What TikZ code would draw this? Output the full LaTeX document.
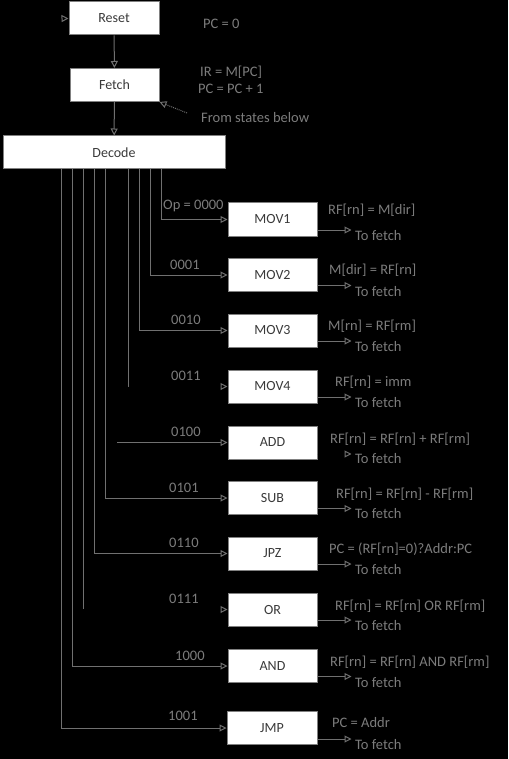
\documentclass[tikz,border=0pt]{standalone}
\usepackage{fontspec}
\setmainfont{Carlito}
\usetikzlibrary{arrows.meta}
\definecolor{linec}{HTML}{707070}
\definecolor{boxc}{HTML}{808080}
\definecolor{txtin}{HTML}{3A3A3A}
\definecolor{txtout}{HTML}{7C7C7C}
\tikzset{
  box/.style={draw=boxc, fill=white, line width=1pt, minimum width=89pt, minimum height=33pt, inner sep=0pt, font=\fontsize{14}{16}\selectfont, text=txtin},
  wire/.style={draw=linec, line width=1pt},
  hid/.style={draw=black, line width=1pt},
  tip/.style={-{Triangle[open,length=7pt,width=7pt,color=linec]}},
  lbl/.style={text=txtout, font=\fontsize{14.5}{16}\selectfont, inner sep=0pt},
  oplbl/.style={lbl, anchor=west},
}
\begin{document}
\begin{tikzpicture}[x=1pt,y=-1pt]
\fill[black] (0,0) rectangle (508,759);
\useasboundingbox (0,0) rectangle (508,759);
% top boxes
\node[box, minimum width=90pt] (reset) at (114,18.5) {Reset};
\node[box] (fetch) at (114.5,85) {Fetch};
\node[box, minimum width=222pt] (decode) at (114,152.5) {Decode};
\coordinate (rin) at (25,19);
\draw[hid,tip] (rin) -- (reset.west);
\draw[wire,tip] (reset) -- (fetch);
\draw[wire,tip] (fetch) -- (decode);
\node[lbl, anchor=west] (pc0) at (203,24) {PC = 0};
\node[lbl, anchor=west] (ir) at (200,72) {IR = M[PC]};
\node[lbl, anchor=west] (pcinc) at (198,89) {PC = PC + 1};
\node[lbl, anchor=west] (from) at (201,118) {From states below};
\coordinate (fromstart) at (187,113);
\draw[wire, densely dotted, tip] (fromstart) -- (fetch.south east);
% state boxes
\node[box] (mov1) at (272.5,219.5) {MOV1};
\node[box] (mov2) at (272.5,275) {MOV2};
\node[box] (mov3) at (272.5,330.5) {MOV3};
\node[box] (mov4) at (272.5,386.5) {MOV4};
\node[box] (add) at (272.5,442.5) {ADD};
\node[box] (sub) at (272.5,498) {SUB};
\node[box] (jpz) at (272.5,553.5) {JPZ};
\node[box] (or) at (272.5,609.5) {OR};
\node[box] (and) at (272.5,666) {AND};
\node[box, minimum width=90pt] (jmp) at (272,728) {JMP};
% hidden segments (black on black)
\draw[hid] ([xshift=3pt]decode.south) -- ([xshift=3pt]decode.south |- add) coordinate (addc);
% branches from decode
\draw[wire,tip] ([xshift=47pt]decode.south) |- (mov1);
\draw[wire,tip] ([xshift=36pt]decode.south) |- (mov2);
\draw[wire,tip] ([xshift=25pt]decode.south) |- (mov3);
\draw[wire] ([xshift=14.5pt]decode.south) -- ([xshift=14.5pt]decode.south |- mov4) coordinate (m4c);
\draw[hid,tip] (m4c) -- (mov4);
\draw[wire,tip] (addc) -- (add);
\draw[wire,tip] ([xshift=-9pt]decode.south) |- (sub);
\draw[wire,tip] ([xshift=-20pt]decode.south) |- (jpz);
\draw[wire] ([xshift=-31pt]decode.south) -- ([xshift=-31pt]decode.south |- or) coordinate (orc);
\draw[hid,tip] (orc) -- (or);
\draw[wire,tip] ([xshift=-42pt]decode.south) |- (and);
\draw[wire,tip] ([xshift=-53pt]decode.south) |- (jmp);
% opcode labels
\node[lbl, anchor=west] (l0) at (163,206) {Op = 0000};
\node[lbl, anchor=west] (l1) at (170,265) {0001};
\node[lbl, anchor=west] (l2) at (171,320) {0010};
\node[lbl, anchor=west] (l3) at (171,376) {0011};
\node[lbl, anchor=west] (l4) at (171,432) {0100};
\node[lbl, anchor=west] (l5) at (169,488) {0101};
\node[lbl, anchor=west] (l6) at (169,543) {0110};
\node[lbl, anchor=west] (l7) at (169,599) {0111};
\node[lbl, anchor=west] (l8) at (175,656) {1000};
\node[lbl, anchor=west] (l9) at (168,716) {1001};
% exits
\draw[wire,tip] ([yshift=-10.5pt]mov1.east) -- ++(34,0) coordinate (e1);
\draw[wire,tip] ([yshift=-10.5pt]mov2.east) -- ++(34,0) coordinate (e2);
\draw[wire,tip] ([yshift=-10.5pt]mov3.east) -- ++(34,0) coordinate (e3);
\draw[wire,tip] ([yshift=-10.5pt]mov4.east) -- ++(34,0) coordinate (e4);
\draw[hid,tip] ([yshift=-11.5pt]add.east) -- ++(34,0) coordinate (e5);
\draw[wire,tip] ([yshift=-10.5pt]sub.east) -- ++(34,0) coordinate (e6);
\draw[wire,tip] ([yshift=-10.5pt]jpz.east) -- ++(34,0) coordinate (e7);
\draw[wire,tip] ([yshift=-10.5pt]or.east) -- ++(34,0) coordinate (e8);
\draw[wire,tip] ([yshift=-10.5pt]and.east) -- ++(34,0) coordinate (e9);
\draw[wire,tip] ([yshift=-11pt]jmp.east) -- ++(34,0) coordinate (e10);
% operation texts
\node[oplbl] (o1) at (328,210) {RF[rn] = M[dir]};
\node[oplbl] (o2) at (329,270) {M[dir] = RF[rn]};
\node[oplbl] (o3) at (328,326) {M[rn] = RF[rm]};
\node[oplbl] (o4) at (335,382) {RF[rn] = imm};
\node[oplbl] (o5) at (330,439) {RF[rn] = RF[rn] + RF[rm]};
\node[oplbl] (o6) at (336,494) {RF[rn] = RF[rn] - RF[rm]};
\node[oplbl] (o7) at (329,549) {PC = (RF[rn]=0)?Addr:PC};
\node[oplbl] (o8) at (335,606) {RF[rn] = RF[rn] OR RF[rm]};
\node[oplbl] (o9) at (330,662) {RF[rn] = RF[rn] AND RF[rm]};
\node[oplbl] (o10) at (332,723) {PC = Addr};
% to fetch
\foreach \y/\n in {236/t1,292/t2,347/t3,403/t4,459/t5,514/t6,570/t7,626/t8,683/t9,745/t10}
  \node[oplbl] (\n) at (355,\y) {To fetch};
\end{tikzpicture}
\end{document}
